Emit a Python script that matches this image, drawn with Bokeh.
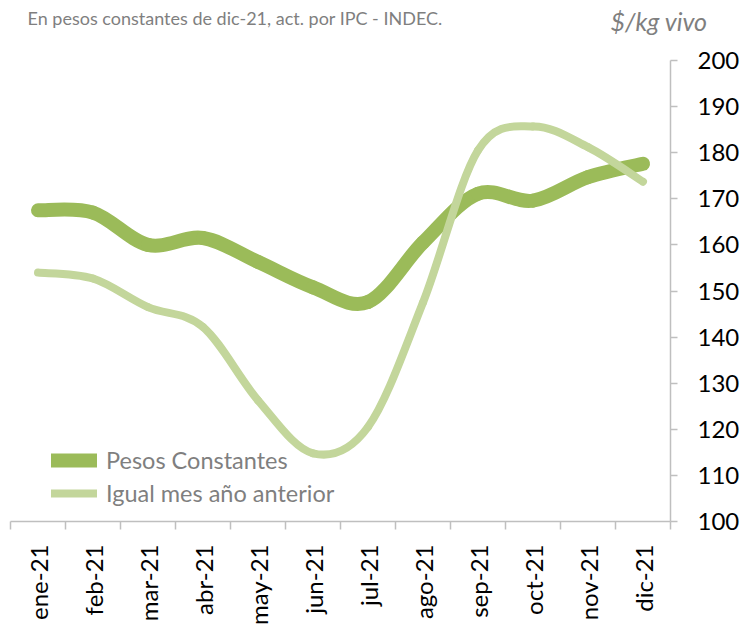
import math
from bokeh.plotting import figure
from bokeh.layouts import column
from bokeh.models import (Range1d, FixedTicker, Label, Legend, LegendItem,
                          ColumnDataSource)
from bokeh.embed import file_html
from bokeh.resources import INLINE

# ---------------- data ----------------
months = ["ene-21", "feb-21", "mar-21", "abr-21", "may-21", "jun-21",
          "jul-21", "ago-21", "sep-21", "oct-21", "nov-21", "dic-21"]
pesos_constantes = [167.5, 167.0, 160.0, 161.5, 156.3, 150.8,
                    147.6, 160.5, 171.1, 169.6, 174.7, 177.6]
igual_mes_anio_anterior = [154.0, 152.7, 146.5, 142.2, 126.3, 114.8,
                           120.5, 147.5, 180.5, 185.7, 181.2, 173.7]
y_ticks = [100, 110, 120, 130, 140, 150, 160, 170, 180, 190, 200]

subtitle = "En pesos constantes de dic-21, act. por IPC - INDEC."
unit_text = "$/kg  vivo"
series_names = ["Pesos Constantes", "Igual mes año anterior"]

DARK = "#9BBB59"
LIGHT = "#C3D69B"
AXIS = "#BFBFBF"
GRAY_TXT = "#7F7F7F"
FONT = "Lato"

xs = list(range(len(months)))

PAGE_W = 739
HEADER_H = 44


def smooth_segments(x, y):
    """Bezier control points (Excel-like smoothing) for curve through data."""
    n = len(x)
    d = dict(x0=[], y0=[], x1=[], y1=[], cx0=[], cy0=[], cx1=[], cy1=[])
    for i in range(n - 1):
        i0, i3 = max(i - 1, 0), min(i + 2, n - 1)
        d["x0"].append(x[i]); d["y0"].append(y[i])
        d["x1"].append(x[i + 1]); d["y1"].append(y[i + 1])
        d["cx0"].append(x[i] + (x[i + 1] - x[i0]) / 6.0)
        d["cy0"].append(y[i] + (y[i + 1] - y[i0]) / 6.0)
        d["cx1"].append(x[i + 1] - (x[i3] - x[i]) / 6.0)
        d["cy1"].append(y[i + 1] - (y[i3] - y[i]) / 6.0)
    return ColumnDataSource(d)


# ---------------- header strip (texts above the chart) ----------------
ph = figure(frame_width=PAGE_W, frame_height=HEADER_H,
            x_range=Range1d(0, PAGE_W), y_range=Range1d(HEADER_H, 0),
            x_axis_location=None, y_axis_location=None,
            output_backend="svg", toolbar_location=None,
            min_border=0, outline_line_color=None,
            background_fill_color="white", border_fill_color="white")
ph.grid.visible = False
ph.add_layout(Label(x=17, y=17, text=subtitle,
                    text_font=FONT, text_font_size="18px", text_color=GRAY_TXT,
                    text_baseline="middle", text_align="left"))
ph.add_layout(Label(x=703, y=20, text=unit_text, text_font=FONT,
                    text_font_size="25px", text_font_style="italic",
                    text_color=GRAY_TXT, text_baseline="middle",
                    text_align="right"))

# ---------------- main chart ----------------
p = figure(frame_width=660, frame_height=461,
           x_range=Range1d(-0.5, len(months) - 0.5),
           y_range=Range1d(y_ticks[0], y_ticks[-1]),
           y_axis_location="right",
           output_backend="svg", toolbar_location=None,
           min_border_left=10, min_border_top=16,
           min_border_right=0, min_border_bottom=2,
           outline_line_color=None, background_fill_color="white",
           border_fill_color="white")
p.grid.visible = False

r_dark = p.bezier(x0="x0", y0="y0", x1="x1", y1="y1", cx0="cx0", cy0="cy0",
                  cx1="cx1", cy1="cy1", source=smooth_segments(xs, pesos_constantes),
                  line_color=DARK, line_width=14, line_cap="round")
r_light = p.bezier(x0="x0", y0="y0", x1="x1", y1="y1", cx0="cx0", cy0="cy0",
                   cx1="cx1", cy1="cy1",
                   source=smooth_segments(xs, igual_mes_anio_anterior),
                   line_color=LIGHT, line_width=8, line_cap="round")

legend = Legend(items=[LegendItem(label=series_names[0], renderers=[r_dark], index=0),
                       LegendItem(label=series_names[1], renderers=[r_light], index=0)],
                location=(41, 13), padding=0, margin=0, spacing=3,
                glyph_width=46, glyph_height=30, label_height=30,
                label_standoff=9, border_line_color=None,
                background_fill_alpha=0,
                label_text_font=FONT, label_text_font_size="23.5px",
                label_text_color=GRAY_TXT)
p.add_layout(legend, "center")

# x axis
xa = p.xaxis[0]
xa.ticker = FixedTicker(ticks=xs, minor_ticks=[i - 0.5 for i in range(len(months) + 1)])
xa.major_label_overrides = {i: m for i, m in enumerate(months)}
xa.major_tick_in = 0
xa.major_tick_out = 0
xa.minor_tick_in = 0
xa.minor_tick_out = 8
xa.minor_tick_line_color = AXIS
xa.minor_tick_line_width = 1.5
xa.axis_line_color = AXIS
xa.axis_line_width = 1.5
xa.major_label_orientation = math.pi / 2
xa.major_label_standoff = 15
xa.major_label_text_font = FONT
xa.major_label_text_font_size = "24px"
xa.major_label_text_color = "#000000"

# y axis (right)
ya = p.yaxis[0]
ya.ticker = FixedTicker(ticks=y_ticks)
ya.major_tick_in = 0
ya.major_tick_out = 7
ya.minor_tick_in = 0
ya.minor_tick_out = 0
ya.major_tick_line_color = AXIS
ya.major_tick_line_width = 1.5
ya.axis_line_color = AXIS
ya.axis_line_width = 1.5
ya.major_label_standoff = 20
ya.major_label_text_font = FONT
ya.major_label_text_font_size = "24px"
ya.major_label_text_color = "#000000"

layout = column(ph, p, spacing=0)
open("out.html", "w").write(file_html(layout, INLINE))
